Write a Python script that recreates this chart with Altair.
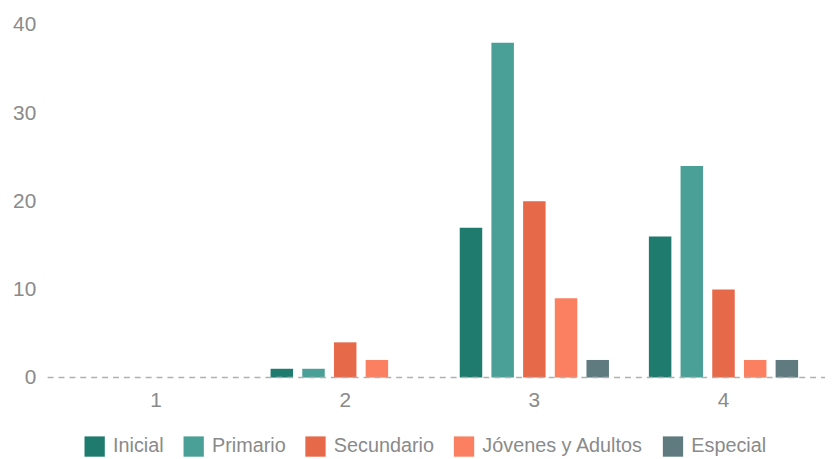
import altair as alt
import pandas as pd

categories = ["1", "2", "3", "4"]
series = ["Inicial", "Primario", "Secundario", "Jóvenes y Adultos", "Especial"]
inicial = [0, 1, 17, 16]
primario = [0, 1, 38, 24]
secundario = [0, 4, 20, 10]
jovenes = [0, 2, 9, 2]
especial = [0, 0, 2, 2]
colors = ["#207b6f", "#4aa096", "#e6694a", "#fb8062", "#5f7b7f"]

rows = []
for s, vals in zip(series, [inicial, primario, secundario, jovenes, especial]):
    for c, v in zip(categories, vals):
        rows.append({"cat": c, "serie": s, "valor": v})
df = pd.DataFrame(rows)

W, H = 764, 356
FONT = "Liberation Sans"
GREY = "#8a8a8a"

bars = alt.Chart(df).mark_bar().encode(
    x=alt.X("cat:N", sort=categories, title=None,
            scale=alt.Scale(paddingInner=0, paddingOuter=0),
            axis=alt.Axis(labelAngle=0, domain=False, ticks=False, labelPadding=12,
                          labelFontSize=21, labelColor=GREY, labelFont=FONT)),
    xOffset=alt.XOffset("serie:N", sort=series,
                        scale=alt.Scale(paddingInner=0.29, paddingOuter=0.63)),
    y=alt.Y("valor:Q", title=None,
            scale=alt.Scale(domain=[0, 40]),
            axis=alt.Axis(values=[0, 10, 20, 30, 40], grid=False, domain=False, ticks=False,
                          labelPadding=26, labelFontSize=21, labelColor=GREY, labelFont=FONT)),
    color=alt.Color("serie:N", sort=series,
                    scale=alt.Scale(domain=series, range=colors),
                    legend=alt.Legend(title=None, orient="none", direction="horizontal",
                                      legendX=23, legendY=415, symbolType="square",
                                      symbolSize=420, symbolStrokeWidth=0, labelFontSize=20,
                                      labelColor=GREY, labelFont=FONT, columnPadding=19,
                                      labelOffset=8, labelLimit=400)),
)

base = alt.Chart(pd.DataFrame({"y": [0]})).mark_rule(
    color="#b0b0b0", strokeDash=[6, 5], strokeWidth=1.5
).encode(y=alt.Y("y:Q"), x=alt.value(-14), x2=alt.value(W + 13))

chart = alt.layer(bars, base).properties(
    width=W, height=H,
    autosize=alt.AutoSizeParams(type="none"),
    padding={"left": 54, "top": 15, "right": 7, "bottom": 80},
).configure_view(stroke=None)

chart.save("out.html", embed_options={"renderer": "svg", "actions": False})
